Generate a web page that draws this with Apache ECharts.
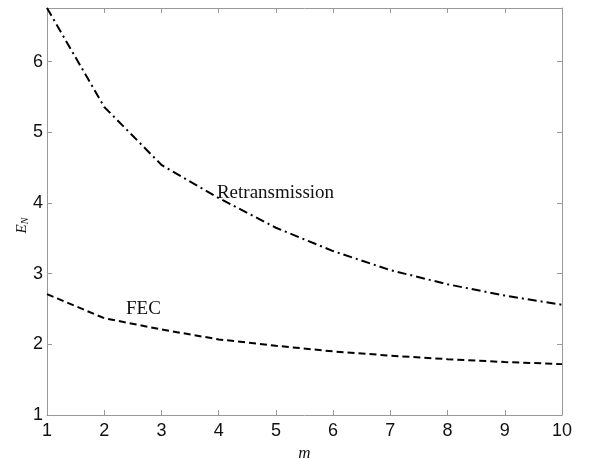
<!DOCTYPE html>
<html>
<head>
<meta charset="utf-8">
<script src="https://cdn.jsdelivr.net/npm/echarts@6/dist/echarts.min.js"></script>
<style>
  html, body { margin: 0; padding: 0; background: #fff; }
  #chart { width: 589px; height: 460px; }
</style>
</head>
<body>
<div id="chart"></div>
<script>
// values
var mValues = [1, 2, 3, 4, 5, 6, 7, 8, 9, 10];
var retransmission = [6.76, 5.36, 4.54, 4.07, 3.65, 3.32, 3.05, 2.85, 2.69, 2.56];
var fec = [2.71, 2.37, 2.21, 2.07, 1.98, 1.90, 1.84, 1.79, 1.75, 1.72];

var myChart = echarts.init(document.getElementById('chart'), null, {renderer: 'canvas'});

var axisColor = '#999';
var labelFont = {color: '#111', fontSize: 18, fontFamily: 'Liberation Sans'};

function pairs(ys) {
    return mValues.map(function (m, i) { return [m, ys[i]]; });
}

option = {
    animation: false,
    grid: {left: 47, right: 27, top: 8, bottom: 45, containLabel: false, outerBoundsMode: 'none'},
    xAxis: [{
        type: 'value',
        min: 1,
        max: 10,
        interval: 1,
        name: 'm',
        nameLocation: 'middle',
        nameGap: 30,
        nameTextStyle: {fontFamily: 'Liberation Serif', fontStyle: 'italic', fontSize: 17, color: '#111'},
        axisLine: {show: true, lineStyle: {color: axisColor}},
        axisTick: {show: true, inside: true, length: 5, lineStyle: {color: axisColor}},
        axisLabel: Object.assign({margin: 7}, labelFont),
        splitLine: {show: false}
    }, {
        type: 'value',
        position: 'top',
        min: 1,
        max: 10,
        interval: 1,
        axisLine: {show: true, lineStyle: {color: axisColor}},
        axisTick: {show: true, inside: true, length: 5, lineStyle: {color: axisColor}},
        axisLabel: {show: false},
        splitLine: {show: false}
    }],
    yAxis: [{
        type: 'value',
        min: 1,
        max: 6.76,
        interval: 1,
        name: '{e|E}{s|N}',
        nameLocation: 'middle',
        nameGap: 17,
        nameMoveOverlap: false,
        nameTextStyle: {
            padding: [0, 28, 0, 0],
            rich: {
                e: {fontFamily: 'Liberation Serif', fontStyle: 'italic', fontSize: 15, color: '#111', lineHeight: 18, verticalAlign: 'bottom'},
                s: {fontFamily: 'Liberation Serif', fontStyle: 'italic', fontSize: 10, color: '#111', lineHeight: 18, verticalAlign: 'bottom', padding: [9, 0, 0, 0]}
            }
        },
        axisLine: {show: true, lineStyle: {color: axisColor}},
        axisTick: {show: true, inside: true, length: 5, lineStyle: {color: axisColor}},
        axisLabel: Object.assign({
            margin: 4,
            formatter: function (v) { return Math.abs(v - Math.round(v)) < 1e-6 ? String(Math.round(v)) : ''; }
        }, labelFont),
        splitLine: {show: false}
    }, {
        type: 'value',
        position: 'right',
        min: 1,
        max: 6.76,
        interval: 1,
        axisLine: {show: true, lineStyle: {color: axisColor}},
        axisTick: {show: true, inside: true, length: 5, lineStyle: {color: axisColor}},
        axisLabel: {show: false},
        splitLine: {show: false}
    }],
    series: [{
        name: 'Retransmission',
        type: 'line',
        data: pairs(retransmission),
        showSymbol: false,
        symbol: 'none',
        lineStyle: {color: '#000', width: 2, type: [9, 4, 2, 4]},
        markPoint: {
            symbol: 'circle',
            symbolSize: 0,
            data: [{coord: [3.97, 4.14], value: 'Retransmission'}],
            label: {
                show: true, position: 'right', distance: 0,
                formatter: 'Retransmission',
                fontFamily: 'Liberation Serif', fontSize: 19, color: '#111'
            }
        }
    }, {
        name: 'FEC',
        type: 'line',
        data: pairs(fec),
        showSymbol: false,
        symbol: 'none',
        lineStyle: {color: '#000', width: 2, type: [7, 4]},
        markPoint: {
            symbol: 'circle',
            symbolSize: 0,
            data: [{coord: [2.38, 2.5], value: 'FEC'}],
            label: {
                show: true, position: 'right', distance: 0,
                formatter: 'FEC',
                fontFamily: 'Liberation Serif', fontSize: 19, color: '#111'
            }
        }
    }]
};

myChart.setOption(option);
</script>
</body>
</html>
